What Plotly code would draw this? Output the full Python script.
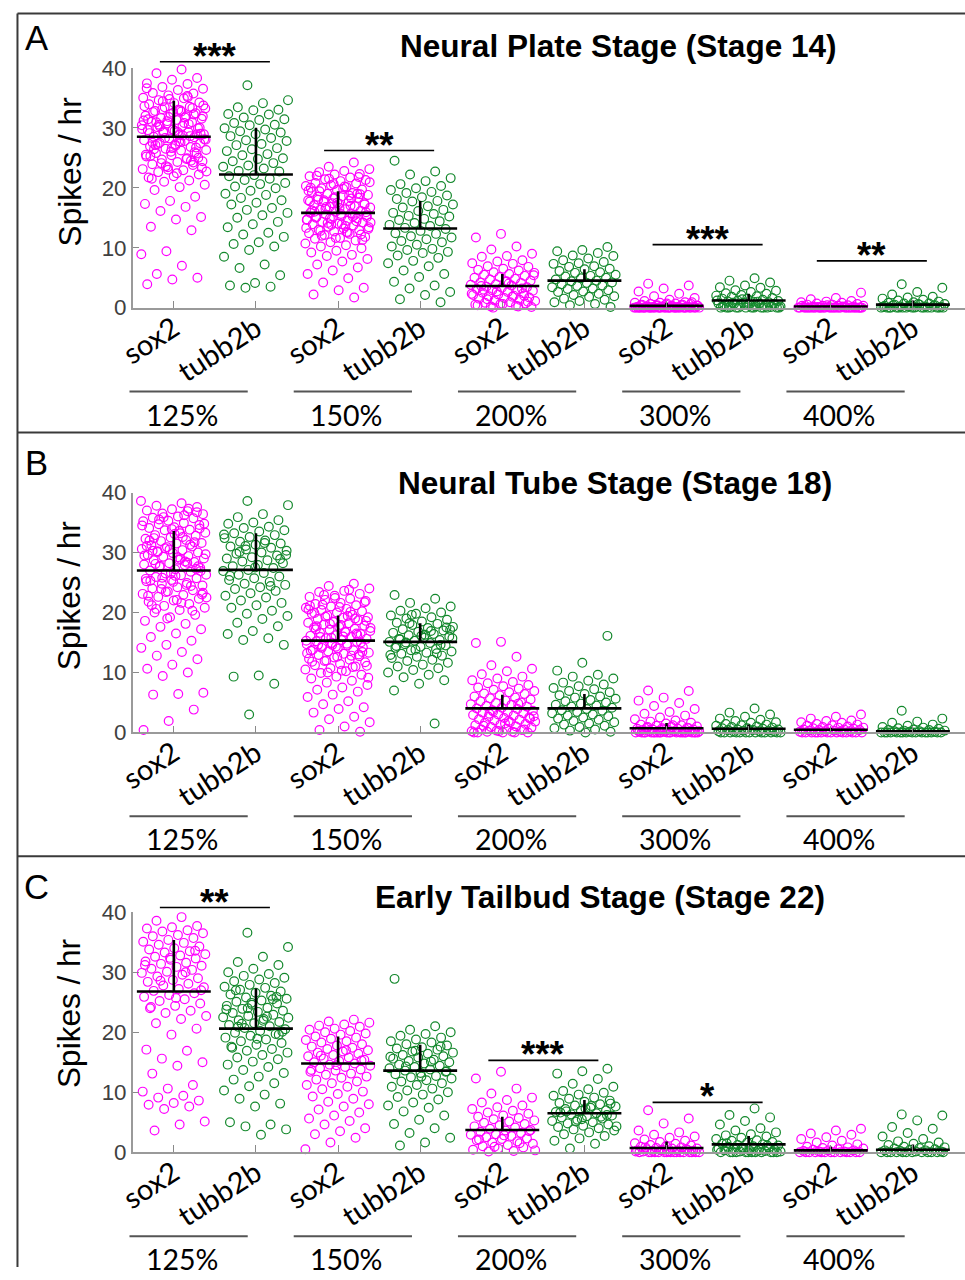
import plotly.graph_objects as go

# ---------------- data ----------------
CATEGORIES = ["sox2", "tubb2b"] * 5
GROUP_LABELS = ["125%", "150%", "200%", "300%", "400%"]
Y_TICKS = [0, 10, 20, 30, 40]
PANEL_LETTERS = ["A", "B", "C"]
PANEL_TITLES = ["Neural Plate Stage (Stage 14)", "Neural Tube Stage (Stage 18)",
                "Early Tailbud Stage (Stage 22)"]

# Panel A
A_SOX2_125 = [40.2, 39.7, 39.1, 38.3, 38.0, 37.4, 37.3, 36.8, 36.5, 36.3, 35.8, 35.7, 35.4, 35.0, 34.9, 34.6, 34.2, 34.1, 33.9, 33.5, 33.4, 33.2, 32.9, 32.8, 32.4, 32.3, 32.0, 31.9, 31.6, 31.5, 31.3, 31.0, 30.9, 30.7, 30.4, 30.3, 30.1, 29.9, 29.7, 29.6, 29.3, 29.2, 28.9, 28.8, 28.5, 28.4, 28.2, 27.9, 27.8, 27.5, 27.4, 27.2, 26.9, 26.8, 26.5, 26.3, 26.2, 25.8, 25.7, 25.4, 25.2, 24.9, 24.7, 24.4, 24.3, 23.9, 23.8, 23.4, 23.1, 22.9, 22.6, 22.2, 21.9, 21.7, 21.2, 21.0, 20.5, 20.1, 19.6, 18.5, 17.8, 17.3, 16.8, 16.1, 15.1, 14.7, 13.5, 12.9, 9.4, 8.9, 7.0, 5.6, 5.0, 4.7, 3.9,
              35.1, 34.4, 33.7, 33.0, 32.6, 32.2, 31.8, 31.2, 30.8, 30.5, 30.0, 29.5, 29.1, 28.6, 28.3, 28.0, 27.6, 27.1, 26.7, 26.0, 25.5, 24.8, 24.1, 23.3, 22.4, 21.5, 33.3, 31.1, 29.8, 28.7, 27.3, 25.0,
              32.5, 31.4, 30.6, 29.4, 28.1, 27.7, 26.4, 25.9, 34.8, 33.6, 31.7, 30.2, 29.0, 27.0, 25.3, 24.5, 23.6, 22.7, 32.7, 30.9, 28.9, 26.6, 36.6, 35.3, 33.1, 31.9, 29.3, 27.5, 24.2, 23.0]
A_TUBB2B_125 = [37.1, 34.6, 34.1, 33.4, 33.0, 32.9, 32.3, 32.2, 31.7, 31.4, 31.3, 30.8, 30.5, 30.4, 29.9, 29.7, 29.4, 29.2, 28.9, 28.6, 28.3, 27.9, 27.8, 27.3, 27.1, 26.6, 26.4, 26.1, 25.6, 25.4, 24.9, 24.8, 24.4, 24.1, 23.7, 23.5, 23.2, 22.8, 22.7, 22.1, 21.9, 21.5, 21.3, 20.8, 20.6, 20.2, 19.9, 19.5, 19.0, 18.8, 18.3, 17.9, 17.5, 17.2, 16.6, 16.3, 15.8, 15.4, 15.0, 14.3, 13.9, 13.4, 12.5, 12.2, 11.8, 10.9, 10.6, 10.2, 9.6, 8.5, 7.2, 6.6, 5.4, 4.1, 3.7, 3.5, 3.3]
A_SOX2_150 = [24.2, 23.5, 23.1, 22.8, 22.6, 22.3, 22.2, 21.9, 21.7, 21.4, 21.3, 21.1, 20.8, 20.7, 20.4, 20.3, 20.1, 19.9, 19.7, 19.6, 19.3, 19.1, 19.0, 18.8, 18.6, 18.5, 18.3, 18.2, 17.9, 17.8, 17.6, 17.4, 17.3, 17.1, 16.9, 16.8, 16.7, 16.4, 16.3, 16.1, 16.0, 15.8, 15.7, 15.5, 15.4, 15.3, 15.1, 14.9, 14.8, 14.6, 14.5, 14.3, 14.2, 14.0, 13.9, 13.7, 13.5, 13.4, 13.2, 13.0, 12.9, 12.7, 12.4, 12.3, 12.1, 11.8, 11.6, 11.5, 11.2, 10.9, 10.7, 10.4, 10.2, 9.9, 9.5, 9.2, 8.8, 8.6, 8.1, 7.7, 7.2, 6.7, 6.2, 5.6, 4.9, 4.2, 3.3, 2.9, 2.2, 1.7,
              21.5, 20.9, 20.2, 19.4, 18.9, 18.4, 17.7, 17.0, 16.5, 15.9, 15.6, 15.0, 14.4, 13.8, 13.3, 12.6, 12.0, 11.3, 17.5, 16.2, 15.2, 14.1, 13.1, 19.8, 18.0,
              21.8, 20.6, 19.5, 18.7, 17.9, 17.2, 16.6, 16.0, 15.5, 14.9, 14.2, 13.6, 12.8, 12.2, 11.6, 20.0, 18.2, 16.8, 15.1, 13.9, 22.0, 19.0, 17.4, 14.7, 12.5]
A_TUBB2B_150 = [24.5, 22.7, 22.2, 21.6, 21.1, 20.6, 20.3, 19.9, 19.6, 19.3, 19.1, 18.7, 18.4, 18.1, 17.8, 17.7, 17.2, 16.9, 16.7, 16.3, 16.1, 15.8, 15.6, 15.3, 15.2, 14.8, 14.6, 14.4, 14.1, 13.8, 13.6, 13.3, 13.1, 12.8, 12.4, 12.3, 11.9, 11.7, 11.4, 11.1, 10.9, 10.5, 10.2, 9.8, 9.6, 9.3, 9.1, 8.7, 8.3, 7.8, 7.4, 6.9, 6.2, 5.6, 5.1, 4.3, 3.7, 3.2, 2.6, 2.1, 1.4, 0.9]
A_SOX2_200 = [12.3, 11.7, 10.2, 9.7, 9.0, 8.6, 8.5, 7.9, 7.7, 7.4, 7.3, 6.9, 6.8, 6.5, 6.3, 6.2, 5.9, 5.8, 5.6, 5.5, 5.3, 5.1, 5.0, 4.8, 4.7, 4.5, 4.3, 4.2, 4.1, 3.9, 3.8, 3.7, 3.5, 3.4, 3.3, 3.1, 3.0, 2.9, 2.8, 2.6, 2.5, 2.4, 2.2, 2.1, 2.0, 1.9, 1.7, 1.6, 1.5, 1.3, 1.2, 1.1, 0.9, 0.8, 0.7, 0.6, 0.5, 0.3, 0.2, 0.1,
              4.4, 3.6, 3.2, 2.7, 2.3, 1.8, 1.4, 1.0, 0.6, 0.4, 0.2, 0.0, 5.4, 4.0, 3.0, 2.0]
A_TUBB2B_200 = [10.1, 9.6, 9.4, 9.1, 8.7, 8.6, 8.2, 7.9, 7.6, 7.4, 7.3, 6.9, 6.8, 6.5, 6.4, 6.1, 5.9, 5.8, 5.5, 5.3, 5.2, 5.0, 4.9, 4.7, 4.5, 4.4, 4.2, 4.1, 3.9, 3.7, 3.6, 3.4, 3.2, 3.1, 2.9, 2.7, 2.6, 2.3, 2.1, 1.9, 1.8, 1.5, 1.3, 1.1, 0.9, 0.6, 0.4, 0.1]
A_SOX2_300 = [4.0, 3.7, 3.2, 2.7, 2.3, 1.9, 1.6, 1.3, 1.1, 0.9, 0.8, 0.8, 0.7, 0.6, 0.6, 0.5, 0.4, 0.4, 0.3, 0.3, 0.3, 0.2, 0.2, 0.2, 0.1, 0.1, 0.1, 0.1, 0, 0, 0, 0, 0, 0, 0, 0, 0, 0, 0, 0, 0, 0, 0, 0, 0, 0, 0, 0,
              0.9, 0.7, 0.5, 0.5, 0.4, 0.3, 0.2, 0.2, 0.1, 0.1, 0, 0, 0, 0, 0, 0, 0, 0, 0, 0, 0, 0, 0, 0]
A_TUBB2B_300 = [4.9, 4.5, 4.2, 3.7, 3.4, 3.3, 2.9, 2.8, 2.6, 2.4, 2.3, 2.1, 2.0, 1.9, 1.8, 1.6, 1.5, 1.5, 1.3, 1.2, 1.1, 1.0, 1.0, 0.9, 0.8, 0.7, 0.7, 0.6, 0.5, 0.5, 0.4, 0.3, 0.3, 0.2, 0.2, 0.1, 0.1, 0, 0, 0, 0, 0, 0, 0, 0,
                1.4, 1.2, 1.0, 0.8, 0.6, 0.4, 0.2, 0, 0, 0, 0, 0]
A_SOX2_400 = [2.5, 1.6, 1.4, 1.1, 1.0, 0.9, 0.8, 0.7, 0.6, 0.5, 0.5, 0.4, 0.3, 0.3, 0.3, 0.2, 0.2, 0.1, 0.1, 0.1, 0, 0, 0, 0, 0, 0, 0, 0, 0, 0, 0, 0, 0, 0, 0, 0, 0, 0,
              0.4, 0.3, 0.2, 0.1, 0, 0, 0, 0, 0, 0, 0, 0, 0, 0, 0, 0, 0, 0]
A_TUBB2B_400 = [3.9, 3.3, 2.6, 2.2, 1.8, 1.7, 1.5, 1.3, 1.2, 1.0, 0.9, 0.8, 0.7, 0.7, 0.6, 0.5, 0.5, 0.4, 0.3, 0.3, 0.2, 0.2, 0.1, 0.1, 0, 0, 0, 0, 0, 0, 0, 0, 0, 0, 0, 0,
                0.6, 0.4, 0.3, 0.2, 0.1, 0, 0, 0, 0, 0]

# Panel B
B_SOX2_125 = [38.6, 38.2, 37.8, 37.6, 37.2, 37.0, 36.9, 36.5, 36.4, 36.0, 35.8, 35.7, 35.3, 35.2, 34.9, 34.7, 34.6, 34.2, 34.1, 33.8, 33.7, 33.3, 33.2, 32.9, 32.8, 32.5, 32.3, 32.1, 31.9, 31.6, 31.5, 31.2, 31.0, 30.9, 30.6, 30.4, 30.2, 30.0, 29.9, 29.6, 29.4, 29.3, 29.0, 28.8, 28.7, 28.4, 28.2, 28.0, 27.9, 27.6, 27.4, 27.2, 27.0, 26.8, 26.5, 26.3, 26.2, 25.9, 25.7, 25.4, 25.2, 24.9, 24.8, 24.5, 24.2, 24.0, 23.7, 23.5, 23.1, 22.9, 22.6, 22.3, 22.0, 21.8, 21.4, 21.1, 20.8, 20.4, 20.0, 19.6, 19.2, 18.6, 18.1, 17.6, 17.2, 16.5, 15.9, 15.3, 14.6, 14.1, 13.4, 12.8, 12.2, 11.3, 10.6, 10.0, 9.4, 6.6, 6.4, 6.3, 3.8, 1.9, 0.4,
              36.2, 35.5, 34.0, 33.1, 32.0, 31.3, 30.7, 29.7, 28.9, 28.1, 27.3, 26.6, 25.6, 24.6, 23.9, 23.0, 22.1, 21.2, 20.3, 19.0, 34.5, 32.6, 30.1, 27.7, 25.1, 22.8,
              37.3, 35.9, 34.8, 33.6, 32.4, 31.7, 30.5, 29.5, 28.5, 27.8, 26.9, 26.1, 25.3, 24.4, 23.4, 22.5, 21.6, 20.6, 36.7, 33.9, 31.1, 28.3, 25.8, 23.3, 29.2, 30.3]
B_TUBB2B_125 = [38.6, 37.9, 36.4, 35.9, 35.4, 35.0, 34.8, 34.3, 34.1, 33.7, 33.5, 33.2, 32.9, 32.6, 32.4, 32.0, 31.8, 31.5, 31.3, 31.0, 30.8, 30.5, 30.3, 30.0, 29.8, 29.5, 29.2, 29.0, 28.7, 28.5, 28.2, 27.9, 27.7, 27.4, 27.1, 26.9, 26.6, 26.3, 26.0, 25.7, 25.4, 25.1, 24.8, 24.6, 24.2, 23.9, 23.6, 23.2, 22.8, 22.5, 22.0, 21.6, 21.2, 20.8, 20.3, 19.8, 19.4, 18.9, 18.3, 17.7, 16.9, 16.4, 15.7, 15.4, 14.6, 9.5, 9.3, 8.1, 3.0,
                33.0, 31.6, 30.1, 28.9, 27.5, 26.1, 24.4, 31.1, 29.6]
B_SOX2_150 = [24.8, 24.4, 24.0, 23.6, 23.4, 23.1, 22.8, 22.6, 22.3, 22.1, 21.9, 21.6, 21.4, 21.2, 21.0, 20.8, 20.6, 20.4, 20.2, 20.0, 19.8, 19.6, 19.5, 19.2, 19.1, 18.9, 18.7, 18.5, 18.3, 18.2, 18.0, 17.8, 17.6, 17.5, 17.3, 17.1, 16.9, 16.8, 16.6, 16.4, 16.2, 16.1, 15.9, 15.7, 15.6, 15.4, 15.2, 15.1, 14.9, 14.7, 14.5, 14.4, 14.2, 14.0, 13.8, 13.7, 13.5, 13.3, 13.1, 12.9, 12.7, 12.5, 12.3, 12.1, 11.9, 11.7, 11.4, 11.2, 11.0, 10.7, 10.5, 10.2, 9.9, 9.6, 9.3, 9.0, 8.6, 8.3, 7.9, 7.5, 7.1, 6.8, 6.3, 5.9, 5.2, 4.7, 4.2, 3.9, 3.3, 2.6, 2.2, 1.7, 1.0, 0.4, 0.1,
              22.4, 21.1, 20.1, 19.3, 18.6, 17.9, 17.2, 16.5, 15.8, 15.3, 14.8, 14.1, 13.4, 12.6, 11.8, 10.9, 10.0, 9.1, 16.0, 14.6, 13.0, 18.4, 20.5,
              23.8, 22.9, 21.7, 20.9, 19.9, 19.0, 18.1, 17.4, 16.7, 15.9, 15.0, 14.3, 13.6, 12.8, 12.0, 11.1, 10.3, 17.7, 16.3, 14.6, 13.2, 19.4, 21.3]
B_TUBB2B_150 = [22.9, 22.3, 21.6, 21.0, 20.7, 20.3, 20.0, 19.8, 19.5, 19.2, 19.0, 18.8, 18.5, 18.3, 18.1, 17.9, 17.6, 17.4, 17.2, 17.0, 16.8, 16.6, 16.4, 16.2, 16.0, 15.8, 15.6, 15.4, 15.3, 15.1, 14.9, 14.7, 14.5, 14.3, 14.1, 13.9, 13.7, 13.5, 13.3, 13.1, 12.8, 12.6, 12.4, 12.1, 11.9, 11.6, 11.3, 11.0, 10.7, 10.4, 10.0, 9.6, 9.2, 8.7, 8.1, 7.0, 1.5,
                18.2, 17.1, 16.3, 15.5, 14.6, 13.8, 12.9, 16.9, 15.0, 17.5, 16.1, 14.4, 13.2, 19.6, 15.7]
B_SOX2_200 = [15.1, 14.9, 12.6, 11.2, 10.6, 10.2, 9.7, 9.3, 9.0, 8.7, 8.4, 8.2, 7.9, 7.7, 7.5, 7.3, 7.1, 6.9, 6.7, 6.5, 6.4, 6.2, 6.0, 5.8, 5.7, 5.5, 5.3, 5.2, 5.0, 4.9, 4.7, 4.6, 4.4, 4.3, 4.1, 4.0, 3.9, 3.7, 3.6, 3.4, 3.3, 3.2, 3.0, 2.9, 2.8, 2.6, 2.5, 2.4, 2.2, 2.1, 2.0, 1.8, 1.7, 1.6, 1.4, 1.3, 1.2, 1.0, 0.9, 0.8, 0.6, 0.5, 0.4, 0.3, 0.2, 0.1, 0.1, 0, 0, 0,
              4.8, 3.5, 2.7, 1.9, 1.1, 0.5, 0.2, 0, 0, 3.1, 2.3, 1.5]
B_TUBB2B_200 = [16.1, 11.6, 10.3, 9.6, 9.3, 9.0, 8.6, 8.3, 8.0, 7.7, 7.4, 7.2, 6.9, 6.7, 6.4, 6.2, 6.0, 5.8, 5.6, 5.4, 5.2, 5.0, 4.8, 4.6, 4.5, 4.3, 4.1, 3.9, 3.7, 3.6, 3.4, 3.2, 3.0, 2.8, 2.7, 2.5, 2.3, 2.1, 1.9, 1.7, 1.5, 1.3, 1.1, 0.9, 0.7, 0.5, 0.3, 0.1, 0]
B_SOX2_300 = [7.0, 6.9, 5.8, 5.3, 4.9, 4.4, 3.9, 3.4, 3.1, 2.8, 2.5, 2.2, 2.0, 1.8, 1.6, 1.5, 1.3, 1.2, 1.1, 1.0, 0.9, 0.8, 0.8, 0.7, 0.6, 0.6, 0.5, 0.5, 0.4, 0.4, 0.3, 0.3, 0.2, 0.2, 0.2, 0.1, 0.1, 0.1, 0, 0, 0, 0, 0, 0, 0, 0, 0, 0, 0, 0, 0, 0, 0, 0,
              1.2, 0.9, 0.7, 0.5, 0.3, 0.1, 0, 0, 0, 0, 0, 0]
B_TUBB2B_300 = [4.0, 3.3, 3.0, 2.6, 2.3, 2.1, 1.9, 1.7, 1.6, 1.4, 1.3, 1.2, 1.1, 1.0, 0.9, 0.8, 0.7, 0.7, 0.6, 0.5, 0.5, 0.4, 0.4, 0.3, 0.3, 0.2, 0.2, 0.1, 0.1, 0, 0, 0, 0, 0, 0, 0, 0, 0, 0, 0, 0, 0]
B_SOX2_400 = [3.0, 2.6, 2.3, 2.0, 1.9, 1.7, 1.6, 1.4, 1.3, 1.2, 1.1, 1.0, 0.9, 0.8, 0.8, 0.7, 0.6, 0.6, 0.5, 0.5, 0.4, 0.4, 0.3, 0.3, 0.2, 0.2, 0.1, 0.1, 0, 0, 0, 0, 0, 0, 0, 0, 0, 0, 0, 0, 0, 0]
B_TUBB2B_400 = [3.6, 2.3, 1.8, 1.6, 1.3, 1.1, 0.9, 0.8, 0.7, 0.6, 0.5, 0.4, 0.4, 0.3, 0.3, 0.2, 0.2, 0.1, 0.1, 0, 0, 0, 0, 0, 0, 0, 0, 0, 0, 0, 0, 0, 0, 0, 0]

# Panel C
C_SOX2_125 = [40.1, 39.2, 38.6, 37.7, 37.5, 37.3, 37.0, 36.8, 36.5, 36.2, 36.0, 35.7, 35.4, 35.1, 34.9, 34.6, 34.3, 34.0, 33.8, 33.5, 33.3, 33.0, 32.8, 32.6, 32.3, 32.1, 31.8, 31.6, 31.4, 31.1, 30.9, 30.6, 30.4, 30.1, 29.9, 29.6, 29.3, 29.0, 28.7, 28.4, 28.1, 27.8, 27.5, 27.2, 26.9, 26.5, 26.2, 25.9, 25.5, 25.2, 24.8, 24.4, 24.0, 23.6, 23.2, 22.7, 22.2, 21.5, 20.6, 19.6, 17.1, 16.9, 15.6, 15.0, 14.4, 13.1, 11.2, 10.6, 10.1, 9.4, 9.1, 8.6, 8.2, 7.9, 7.6, 7.2, 5.1, 4.6, 3.6,
              33.6, 32.4, 31.2, 30.0, 28.6, 27.0, 25.7, 24.2]
C_TUBB2B_125 = [36.6, 34.2, 32.6, 31.7, 31.2, 30.6, 30.0, 29.7, 29.4, 29.1, 28.8, 28.5, 28.2, 27.9, 27.6, 27.4, 27.1, 26.8, 26.6, 26.3, 26.1, 25.8, 25.6, 25.3, 25.1, 24.8, 24.6, 24.4, 24.1, 23.9, 23.6, 23.4, 23.2, 22.9, 22.7, 22.5, 22.2, 22.0, 21.7, 21.5, 21.2, 21.0, 20.7, 20.5, 20.2, 19.9, 19.7, 19.4, 19.1, 18.8, 18.5, 18.2, 17.9, 17.6, 17.2, 16.9, 16.6, 16.2, 15.8, 15.5, 15.1, 14.6, 14.2, 13.7, 13.2, 12.6, 12.1, 11.5, 11.0, 10.3, 9.6, 8.9, 8.1, 7.6, 5.0, 4.6, 4.3, 3.8, 2.9,
                27.0, 25.9, 24.9, 23.8, 22.6, 21.4, 20.1, 18.9, 17.4, 25.5, 24.0, 22.4, 21.9, 20.9, 19.6]
C_SOX2_150 = [22.1, 21.8, 21.6, 21.3, 21.1, 20.9, 20.6, 20.4, 20.2, 20.0, 19.8, 19.6, 19.3, 19.1, 18.9, 18.7, 18.5, 18.3, 18.0, 17.8, 17.6, 17.4, 17.2, 17.0, 16.8, 16.6, 16.4, 16.2, 16.0, 15.8, 15.6, 15.4, 15.2, 15.0, 14.8, 14.6, 14.4, 14.2, 14.0, 13.8, 13.6, 13.4, 13.1, 12.9, 12.6, 12.4, 12.1, 11.8, 11.5, 11.2, 10.9, 10.5, 10.1, 9.7, 9.3, 8.9, 8.4, 8.0, 7.6, 7.1, 6.6, 6.1, 5.6, 5.2, 4.6, 4.0, 3.5, 3.0, 2.4, 1.6, 0.5,
              17.0, 16.1, 15.3, 14.5, 13.7]
C_TUBB2B_150 = [28.9, 21.0, 20.4, 20.0, 19.7, 19.4, 19.1, 18.8, 18.5, 18.3, 18.0, 17.8, 17.5, 17.3, 17.1, 16.8, 16.6, 16.4, 16.2, 16.0, 15.8, 15.6, 15.4, 15.2, 15.0, 14.8, 14.6, 14.4, 14.2, 14.0, 13.8, 13.6, 13.4, 13.2, 13.0, 12.7, 12.5, 12.3, 12.0, 11.8, 11.5, 11.2, 10.9, 10.6, 10.3, 10.0, 9.6, 9.2, 8.8, 8.3, 7.8, 7.4, 6.8, 6.1, 5.4, 4.7, 4.0, 3.2, 2.4, 1.6, 1.1,
                17.6, 16.9, 15.9, 15.1, 14.3, 13.5, 12.6]
C_SOX2_200 = [13.4, 12.3, 10.6, 9.8, 9.1, 8.7, 8.3, 7.8, 7.5, 7.2, 6.9, 6.6, 6.4, 6.1, 5.9, 5.7, 5.5, 5.3, 5.1, 4.9, 4.7, 4.5, 4.3, 4.1, 3.9, 3.7, 3.6, 3.4, 3.2, 3.0, 2.9, 2.7, 2.5, 2.3, 2.2, 2.0, 1.8, 1.6, 1.4, 1.2, 1.0, 0.8, 0.6, 0.4, 0.2, 0.1,
              3.5, 2.8, 2.1, 1.5, 0.9, 0.3]
C_TUBB2B_200 = [13.9, 13.5, 13.1, 12.2, 11.4, 10.9, 10.5, 10.2, 9.9, 9.6, 9.4, 9.1, 8.9, 8.6, 8.4, 8.2, 8.0, 7.8, 7.6, 7.4, 7.2, 7.0, 6.9, 6.7, 6.5, 6.3, 6.1, 6.0, 5.8, 5.6, 5.4, 5.2, 5.0, 4.8, 4.6, 4.4, 4.2, 4.0, 3.8, 3.6, 3.3, 3.0, 2.7, 2.3, 1.9, 1.4, 0.6,
                8.1, 7.3, 6.6, 5.9, 5.1, 4.3, 7.7, 6.8, 6.2, 5.5]
C_SOX2_300 = [7.0, 5.6, 4.8, 3.6, 3.3, 2.9, 2.6, 2.4, 2.1, 1.9, 1.7, 1.5, 1.4, 1.2, 1.1, 1.0, 0.9, 0.8, 0.7, 0.6, 0.6, 0.5, 0.4, 0.4, 0.3, 0.3, 0.2, 0.2, 0.1, 0.1, 0, 0, 0, 0, 0, 0, 0, 0, 0, 0, 0, 0,
              0.8, 0.5, 0.3, 0.1, 0, 0, 0, 0]
C_TUBB2B_300 = [7.3, 6.2, 5.8, 5.2, 4.6, 4.0, 3.6, 3.3, 3.0, 2.8, 2.6, 2.4, 2.2, 2.0, 1.9, 1.7, 1.6, 1.4, 1.3, 1.2, 1.1, 1.0, 0.9, 0.8, 0.7, 0.6, 0.5, 0.5, 0.4, 0.3, 0.3, 0.2, 0.1, 0.1, 0, 0, 0, 0, 0, 0, 0, 0, 0,
                1.5, 1.1, 0.7, 0.4, 0.2, 0, 0, 0]
C_SOX2_400 = [3.9, 3.6, 3.1, 2.9, 2.5, 2.2, 1.9, 1.6, 1.3, 1.1, 0.9, 0.8, 0.7, 0.6, 0.5, 0.4, 0.3, 0.3, 0.2, 0.1, 0.1, 0, 0, 0, 0, 0, 0, 0, 0, 0, 0, 0, 0, 0]
C_TUBB2B_400 = [6.3, 6.1, 5.3, 4.2, 3.9, 3.2, 2.6, 2.2, 1.8, 1.6, 1.4, 1.2, 1.0, 0.9, 0.8, 0.7, 0.6, 0.5, 0.4, 0.3, 0.3, 0.2, 0.1, 0.1, 0, 0, 0, 0, 0, 0, 0, 0, 0, 0, 0, 0]

A_MEAN = [28.5, 22.2, 15.8, 13.2, 3.6, 4.5, 0.3, 1.2, 0.2, 0.5]
A_SD = [6.0, 7.8, 3.6, 4.6, 2.0, 1.9, 0.5, 1.1, 0.15, 0.7]
B_MEAN = [27.0, 27.1, 15.3, 15.1, 4.0, 4.0, 0.7, 0.6, 0.45, 0.2]
B_SD = [6.6, 6.1, 4.2, 3.1, 2.3, 2.4, 0.85, 0.7, 0.3, 0.3]
C_MEAN = [26.8, 20.6, 14.8, 13.6, 3.7, 6.5, 0.7, 1.3, 0.3, 0.4]
C_SD = [8.6, 6.7, 4.5, 4.3, 2.2, 2.2, 1.1, 1.4, 0.6, 0.9]

# significance brackets: group index, bracket height, stars
A_SIG_GROUP = [0, 1, 3, 4]
A_SIG_Y = [41.0, 26.2, 10.5, 7.8]
A_SIG_TEXT = ["***", "**", "***", "**"]
B_SIG_GROUP = []
B_SIG_Y = []
B_SIG_TEXT = []
C_SIG_GROUP = [0, 2, 3]
C_SIG_Y = [40.8, 15.3, 8.3]
C_SIG_TEXT = ["**", "***", "*"]

PANELS = [
    dict(data=[A_SOX2_125, A_TUBB2B_125, A_SOX2_150, A_TUBB2B_150, A_SOX2_200, A_TUBB2B_200,
               A_SOX2_300, A_TUBB2B_300, A_SOX2_400, A_TUBB2B_400],
         mean=A_MEAN, sd=A_SD, sg=A_SIG_GROUP, sy=A_SIG_Y, st=A_SIG_TEXT),
    dict(data=[B_SOX2_125, B_TUBB2B_125, B_SOX2_150, B_TUBB2B_150, B_SOX2_200, B_TUBB2B_200,
               B_SOX2_300, B_TUBB2B_300, B_SOX2_400, B_TUBB2B_400],
         mean=B_MEAN, sd=B_SD, sg=B_SIG_GROUP, sy=B_SIG_Y, st=B_SIG_TEXT),
    dict(data=[C_SOX2_125, C_TUBB2B_125, C_SOX2_150, C_TUBB2B_150, C_SOX2_200, C_TUBB2B_200,
               C_SOX2_300, C_TUBB2B_300, C_SOX2_400, C_TUBB2B_400],
         mean=C_MEAN, sd=C_SD, sg=C_SIG_GROUP, sy=C_SIG_Y, st=C_SIG_TEXT),
]

# ---------------- layout geometry ----------------
W, H = 965, 1280
# the photographed page shows the figure slightly shifted and shrunk; positions below are
# given in target-picture pixels and mapped back into figure coordinates
OX, OY, SX, SY = 16.4, 11.2, 0.982, 0.981
FS = 1.0 / 0.982  # font / size compensation
FONT = "Liberation Sans, Arial, sans-serif"
FONT_C = "Lato, Liberation Sans, sans-serif"
MAGENTA = "#ff00ff"
GREEN = "#13882c"


def PX(px):
    return (px - OX) / SX / W


def PY(py):
    return 1 - (py - OY) / SY / H


AXIS_LEFT = (133 - OX) / SX
STEP = 82 / SX
X_DOMAIN = [AXIS_LEFT / W, 1.0]
X_RANGE = [0.5, 0.5 + (W - AXIS_LEFT) / STEP]
Y_DOMAINS = [[PY(307), PY(67)], [PY(732), PY(492)], [PY(1152), PY(912)]]
Y_RANGE = [0, 40]
JITTER = 0.40
HALF_MEAN = 0.45
HALF_SIG = 0.67


def xp(v):
    return X_DOMAIN[0] + (v - X_RANGE[0]) / (X_RANGE[1] - X_RANGE[0]) * (X_DOMAIN[1] - X_DOMAIN[0])


def yp(p, v):
    d = Y_DOMAINS[p]
    return d[0] + (v - Y_RANGE[0]) / (Y_RANGE[1] - Y_RANGE[0]) * (d[1] - d[0])


fig = go.Figure()
annotations = []
shapes = []

for p, panel in enumerate(PANELS):
    sfx = "" if p == 0 else str(p + 1)
    xa, ya = "x" + sfx, "y" + sfx
    for k, vals in enumerate(panel["data"]):
        c = k + 1
        xs = [c + (((i * 0.6180339887 + 0.37 * k) % 1.0) - 0.5) * 2 * JITTER for i in range(len(vals))]
        fig.add_trace(go.Scatter(
            x=xs, y=vals, mode="markers", xaxis=xa, yaxis=ya, showlegend=False,
            cliponaxis=False, hoverinfo="skip",
            marker=dict(symbol="circle-open", size=8.6 * FS,
                        color=MAGENTA if k % 2 == 0 else GREEN, line=dict(width=1.2))))
    mx, my = [], []
    for k, (m, s) in enumerate(zip(panel["mean"], panel["sd"])):
        c = k + 1
        mx += [c - HALF_MEAN, c + HALF_MEAN, None, c, c, None]
        my += [m, m, None, m, m + s, None]
    fig.add_trace(go.Scatter(x=mx, y=my, mode="lines", xaxis=xa, yaxis=ya, showlegend=False,
                             hoverinfo="skip", line=dict(color="black", width=2.6)))
    # significance brackets
    for g, yv, txt in zip(panel["sg"], panel["sy"], panel["st"]):
        c = 2 * g + 1.5
        shapes.append(dict(type="line", xref="paper", yref="paper",
                           x0=xp(c - HALF_SIG), x1=xp(c + HALF_SIG), y0=yp(p, yv), y1=yp(p, yv),
                           line=dict(color="black", width=1.7)))
        fsz = 36 * FS
        annotations.append(dict(text="<b>" + txt + "</b>", xref="paper", yref="paper",
                                x=xp(c), y=yp(p, yv), yshift=14.5 - 0.86 * fsz,
                                xanchor="center", yanchor="bottom",
                                showarrow=False, font=dict(family=FONT, size=fsz, color="black")))
    # group underline + label
    zero_px = [307, 732, 1152][p]
    for g, lab in enumerate(GROUP_LABELS):
        shapes.append(dict(type="line", xref="paper", yref="paper",
                           x0=xp(2 * g + 0.46), x1=xp(2 * g + 1.9),
                           y0=PY(zero_px + 84), y1=PY(zero_px + 84),
                           line=dict(color="#555555", width=2)))
        annotations.append(dict(text=lab, xref="paper", yref="paper",
                                x=xp(2 * g + 1.10), y=PY(zero_px + 107),
                                xanchor="center", yanchor="middle", showarrow=False,
                                font=dict(family=FONT_C, size=28 * FS, color="black")))
    # y title, letter, panel title
    annotations.append(dict(text="Spikes / hr", xref="paper", yref="paper", x=PX(70),
                            y=PY([171, 595, 1013][p]), textangle=-90, xanchor="center", yanchor="middle",
                            showarrow=False, font=dict(family=FONT, size=31 * FS, color="black")))
    annotations.append(dict(text=PANEL_LETTERS[p], xref="paper", yref="paper", x=PX(37),
                            y=PY([37, 462, 887][p]), xanchor="center", yanchor="middle",
                            showarrow=False, font=dict(family=FONT, size=34 * FS, color="black")))
    annotations.append(dict(text="<b>" + PANEL_TITLES[p] + "</b>", xref="paper", yref="paper",
                            x=PX([618, 615, 600][p]), y=PY([45, 482, 897][p]),
                            xanchor="center", yanchor="middle", showarrow=False,
                            font=dict(family=FONT, size=31 * FS, color="black")))

# panel frames (outer frame sits at the very edge of the figure)
frame = dict(color="#3a3a3a", width=2)
top_y = 1 - 1.5 / H
left_x = 1.5 / W
shapes.append(dict(type="line", xref="paper", yref="paper", x0=left_x, x1=1, y0=top_y, y1=top_y, line=frame))
shapes.append(dict(type="line", xref="paper", yref="paper", x0=left_x, x1=1, y0=PY(432), y1=PY(432), line=frame))
shapes.append(dict(type="line", xref="paper", yref="paper", x0=left_x, x1=1, y0=PY(856), y1=PY(856), line=frame))
shapes.append(dict(type="line", xref="paper", yref="paper", x0=left_x, x1=left_x, y0=0, y1=top_y, line=frame))

layout = dict(width=W, height=H, autosize=False, margin=dict(l=0, r=0, t=0, b=0, pad=0),
              paper_bgcolor="white", plot_bgcolor="white", showlegend=False,
              annotations=annotations, shapes=shapes)
for p in range(3):
    sfx = "" if p == 0 else str(p + 1)
    layout["xaxis" + sfx] = dict(
        domain=X_DOMAIN, range=X_RANGE, anchor="y" + sfx,
        tickmode="array", tickvals=list(range(1, 11)), ticktext=CATEGORIES, tickangle=-33,
        tickfont=dict(family=FONT_C, size=28.5 * FS, color="black"), ticklabelstandoff=-9,
        ticks="inside", ticklen=7, tickcolor="#8a8a8a", tickwidth=1.2,
        showline=True, linecolor="#9a9a9a", linewidth=1.5, showgrid=False, zeroline=False)
    layout["yaxis" + sfx] = dict(
        domain=Y_DOMAINS[p], range=Y_RANGE, anchor="x" + sfx,
        tickmode="array", tickvals=Y_TICKS, ticktext=[str(t) for t in Y_TICKS],
        tickfont=dict(family=FONT, size=22 * FS, color="#404040"),
        ticks="inside", ticklen=6, tickcolor="#8a8a8a", tickwidth=1.2,
        showline=True, linecolor="#9a9a9a", linewidth=1.5, showgrid=False, zeroline=False)

fig.update_layout(**layout)
POST = ("var d=document.getElementById('{plot_id}');"
        "d.style.position='fixed';d.style.left='0px';d.style.top='0px';d.style.margin='0';"
        "document.documentElement.style.margin='0';document.documentElement.style.padding='0';"
        "document.documentElement.style.overflow='hidden';"
        "document.body.style.margin='0';document.body.style.padding='0';"
        "document.body.style.overflow='hidden';")
fig.write_html("out.html", config={"displayModeBar": False, "responsive": False}, post_script=POST)
